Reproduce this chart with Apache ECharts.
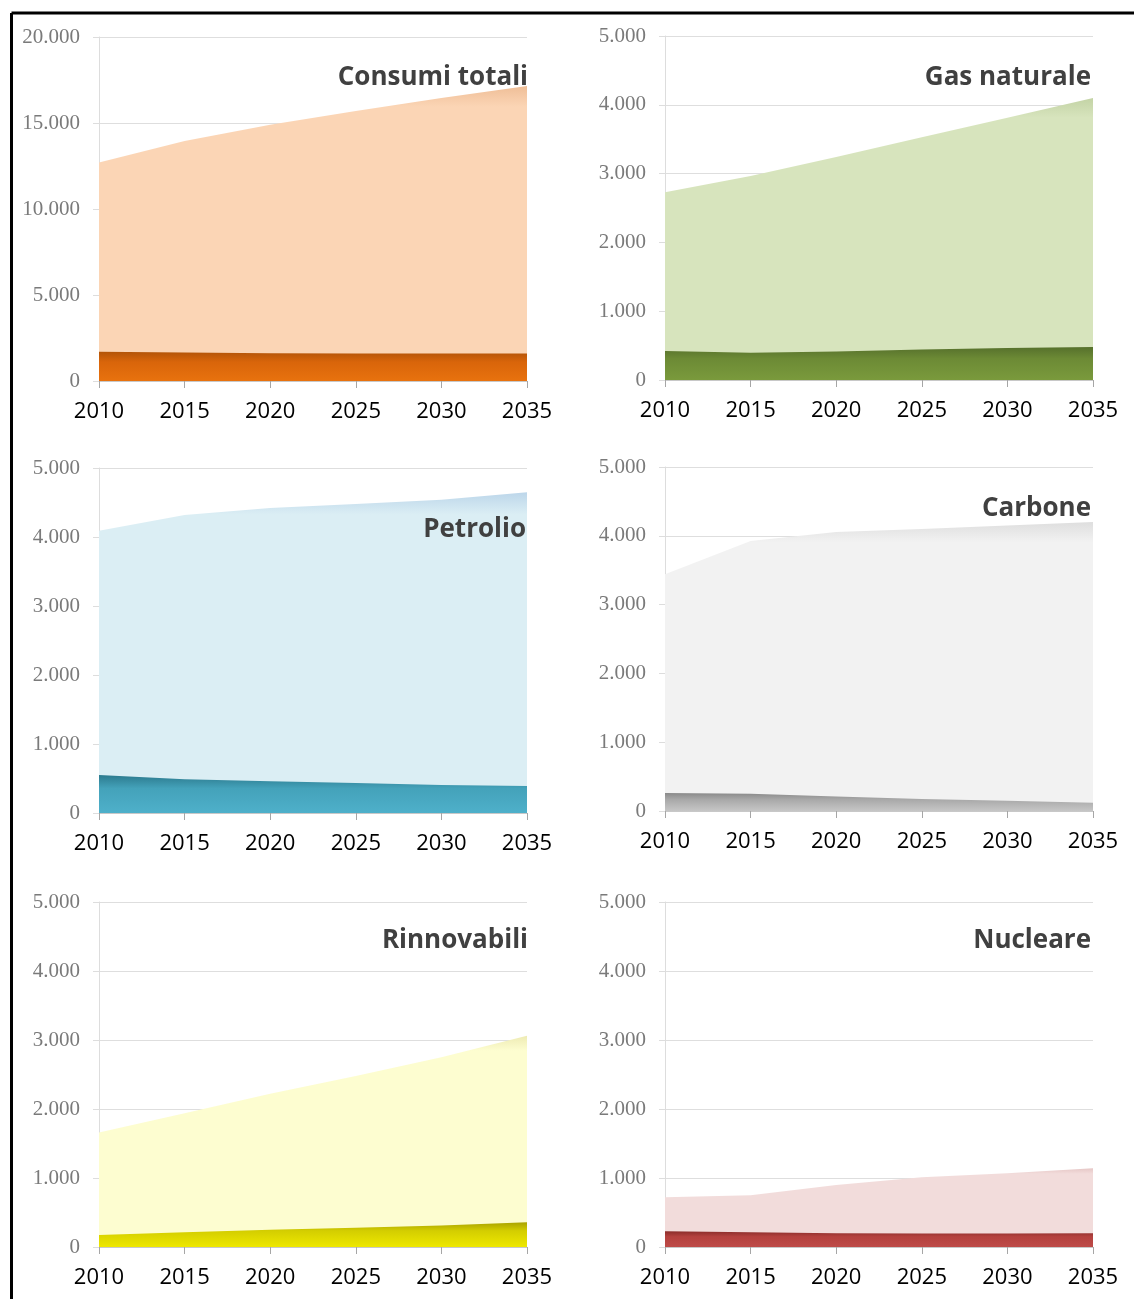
<!DOCTYPE html>
<html>
<head>
<meta charset="utf-8">
<script src="https://cdn.jsdelivr.net/npm/echarts@6/dist/echarts.min.js"></script>
<style>
html,body{margin:0;padding:0;background:#fff;}
#chart{width:1134px;height:1299px;}
</style>
</head>
<body>
<div id="chart"></div>
<script>
// ---- DATA ----
const years = ['2010', '2015', '2020', '2025', '2030', '2035'];
const panelTitles = ['Consumi totali', 'Gas naturale', 'Petrolio', 'Carbone', 'Rinnovabili', 'Nucleare'];

const consumiWorld = [12700, 13950, 14900, 15700, 16450, 17150];
const consumiItaly = [1700, 1650, 1620, 1600, 1600, 1600];

const gasWorld = [2730, 2965, 3240, 3530, 3810, 4100];
const gasItaly = [420, 395, 415, 445, 465, 480];

const petrolioWorld = [4090, 4320, 4420, 4480, 4540, 4650];
const petrolioItaly = [550, 490, 460, 435, 405, 390];

const carboneWorld = [3440, 3925, 4055, 4100, 4150, 4200];
const carboneItaly = [260, 250, 210, 175, 150, 120];

const rinnovabiliWorld = [1660, 1940, 2220, 2480, 2750, 3060];
const rinnovabiliItaly = [175, 215, 250, 280, 310, 360];

const nucleareWorld = [720, 750, 900, 1010, 1070, 1140];
const nucleareItaly = [230, 215, 200, 195, 195, 200];

const yMax = [20000, 5000, 5000, 5000, 5000, 5000];
const yStep = [5000, 1000, 1000, 1000, 1000, 1000];

// ---- STYLE / LAYOUT ----
const W = 1134;
const grids = [
  {left: 99, right: W - 527, top: 37, height: 344},
  {left: 665, right: W - 1093, top: 36, height: 344},
  {left: 99, right: W - 527, top: 468, height: 345},
  {left: 665, right: W - 1093, top: 467, height: 344},
  {left: 99, right: W - 527, top: 902, height: 345},
  {left: 665, right: W - 1093, top: 902, height: 345}
];
const titlePos = [
  {right: W - 528, cy: 75},
  {right: W - 1091, cy: 75},
  {right: W - 526, cy: 527},
  {right: W - 1091, cy: 506},
  {right: W - 528, cy: 938},
  {right: W - 1091, cy: 938}
];
const lightCols = [
  ['#EFBE97', '#FBD5B5'],
  ['#C3D3A5', '#D7E4BD'],
  ['#BCD6EA', '#DBEEF4'],
  ['#DEDEDE', '#F2F2F2'],
  ['#EEEBB4', '#FDFDD0'],
  ['#E6C7C6', '#F2DCDB']
];
const darkCols = [
  ['#B25408', '#D9650A', '#E8720E'],
  ['#56702C', '#6C8A35', '#7A9A3C'],
  ['#2C7A8E', '#44A2BA', '#4EB0CA'],
  ['#8A8A8A', '#A8A8A8', '#C6C6C6'],
  ['#A9A200', '#D4CE00', '#EEE800'],
  ['#8A2D2A', '#B4413E', '#BE4B48']
];
const worldData = [consumiWorld, gasWorld, petrolioWorld, carboneWorld, rinnovabiliWorld, nucleareWorld];
const italyData = [consumiItaly, gasItaly, petrolioItaly, carboneItaly, rinnovabiliItaly, nucleareItaly];

function fmt(v) {
  return String(v).replace(/\B(?=(\d{3})+(?!\d))/g, '.');
}
function grad(stops) {
  return new echarts.graphic.LinearGradient(0, 0, 0, 1, stops);
}

const option = {
  animation: false,
  backgroundColor: '#ffffff',
  grid: grids,
  title: panelTitles.map((t, i) => ({
    text: t,
    right: titlePos[i].right,
    top: titlePos[i].cy - 10,
    padding: 0,
    textStyle: {fontFamily: 'Open Sans', fontWeight: 'bold', fontSize: 26, color: '#404040'}
  })),
  xAxis: grids.map((g, i) => ({
    type: 'category',
    gridIndex: i,
    data: years,
    boundaryGap: false,
    axisLine: {show: true, lineStyle: {color: '#C8C8C8', width: 1}},
    axisTick: {show: true, length: 7, lineStyle: {color: '#A6A6A6'}},
    axisLabel: {margin: 20, fontFamily: 'Open Sans', fontSize: 22, color: '#000000'},
    splitLine: {show: false}
  })),
  yAxis: grids.map((g, i) => ({
    type: 'value',
    gridIndex: i,
    min: 0,
    max: yMax[i],
    interval: yStep[i],
    axisLine: {show: true, lineStyle: {color: '#DDDDDD', width: 1}},
    axisTick: {show: true, length: 6, lineStyle: {color: '#DDDDDD'}},
    axisLabel: {margin: 19, fontFamily: 'Liberation Serif', fontSize: 21, color: '#7A7A7A', formatter: fmt},
    splitLine: {show: true, lineStyle: {color: '#DEDEDE', width: 1}}
  })),
  series: [],
  graphic: [
    {type: 'line', shape: {x1: 11.5, y1: 13, x2: W, y2: 13}, style: {stroke: '#000', lineWidth: 3}, z: 100},
    {type: 'line', shape: {x1: 11.5, y1: 13, x2: 11.5, y2: 1299}, style: {stroke: '#000', lineWidth: 3}, z: 100}
  ]
};

for (let i = 0; i < 6; i++) {
  option.series.push({
    type: 'line',
    xAxisIndex: i,
    yAxisIndex: i,
    data: worldData[i],
    symbol: 'none',
    lineStyle: {width: 0},
    areaStyle: {
      opacity: 1,
      color: grad([
        {offset: 0, color: lightCols[i][0]},
        {offset: 0.07, color: lightCols[i][1]},
        {offset: 1, color: lightCols[i][1]}
      ])
    },
    z: 2
  });
  option.series.push({
    type: 'line',
    xAxisIndex: i,
    yAxisIndex: i,
    data: italyData[i],
    symbol: 'none',
    lineStyle: {width: 0},
    areaStyle: {
      opacity: 1,
      color: grad([
        {offset: 0, color: darkCols[i][0]},
        {offset: 0.35, color: darkCols[i][1]},
        {offset: 1, color: darkCols[i][2]}
      ])
    },
    z: 3
  });
}

const chart = echarts.init(document.getElementById('chart'), null, {renderer: 'canvas'});
chart.setOption(option);
</script>
</body>
</html>
